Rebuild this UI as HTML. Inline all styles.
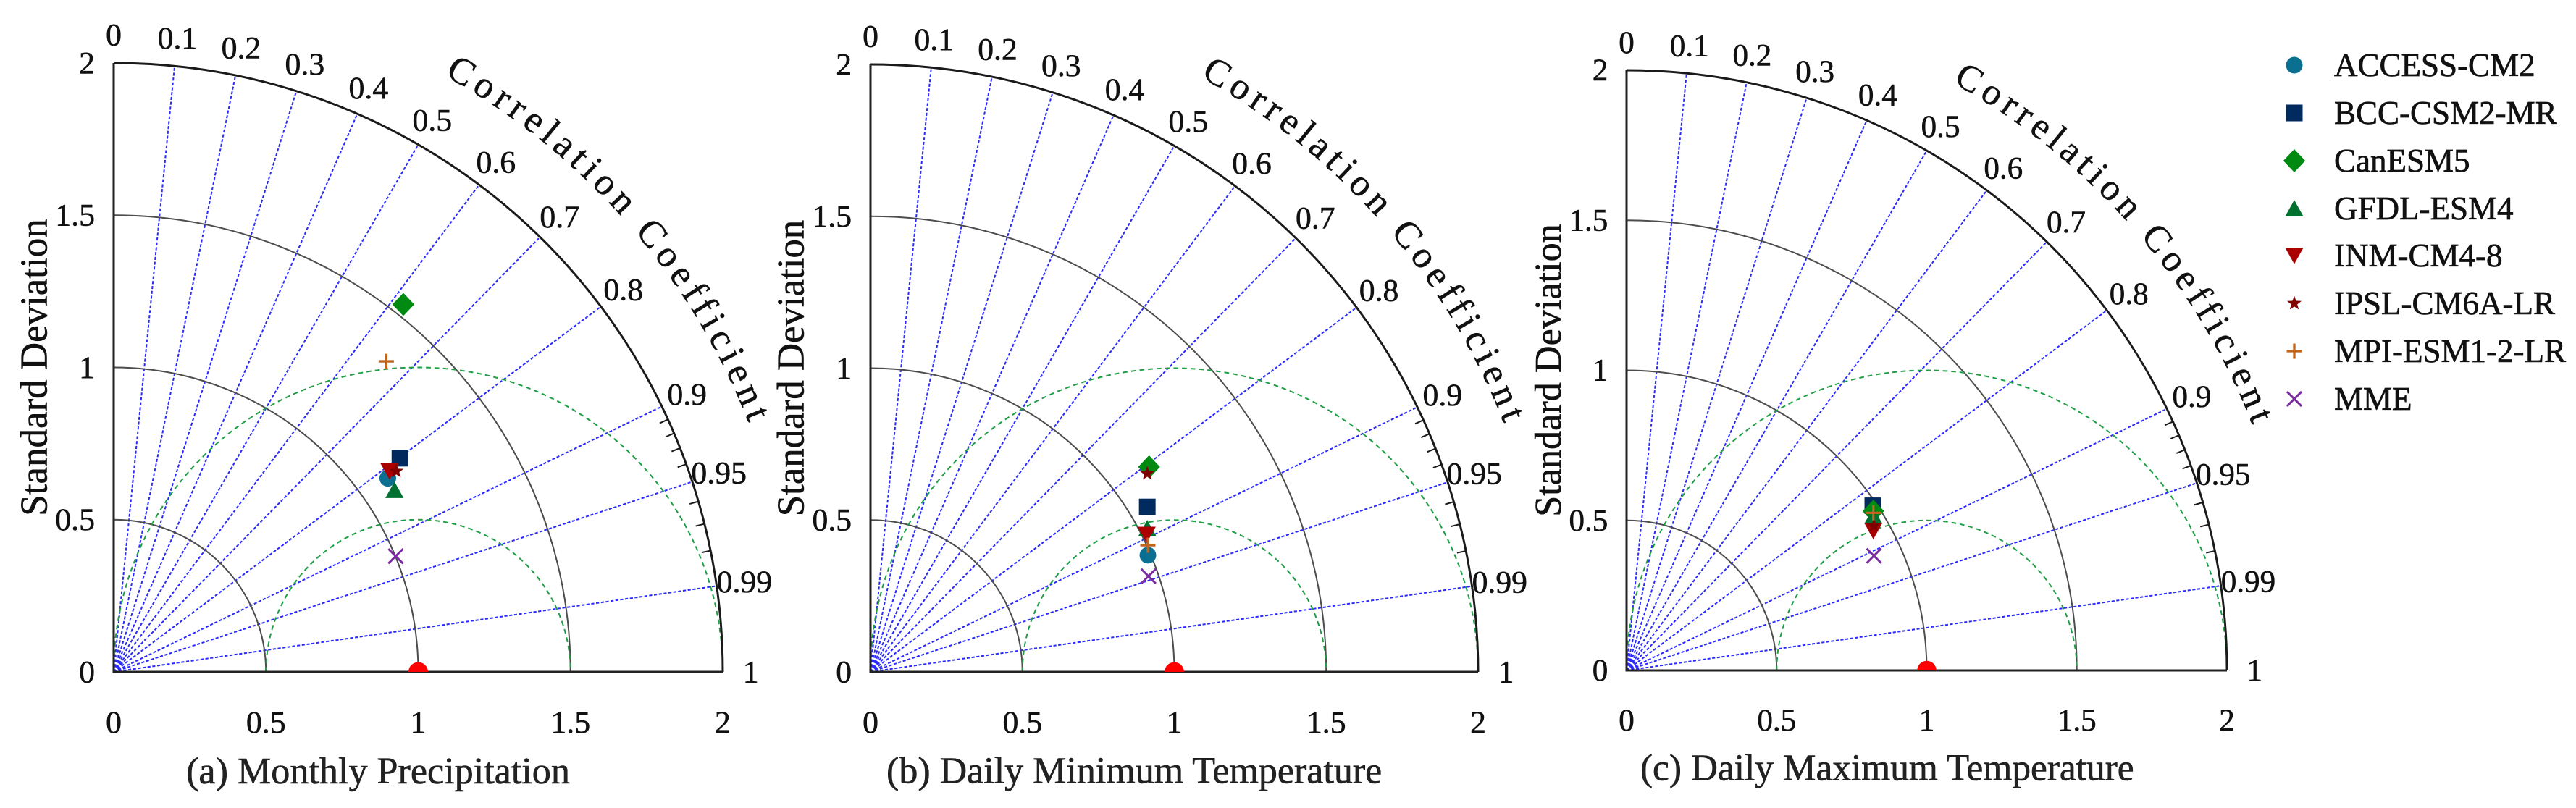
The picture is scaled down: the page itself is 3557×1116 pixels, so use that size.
<!DOCTYPE html>
<html><head><meta charset="utf-8"><style>html,body{margin:0;padding:0;background:#fff}svg{display:block}
svg, svg text, svg textPath{font-family:"Liberation Serif","Times New Roman",Times,"DejaVu Serif","Noto Serif CJK SC",serif;}</style></head>
<body>
<svg xmlns="http://www.w3.org/2000/svg" width="3557" height="1116" viewBox="0 0 3557 1116">
<style>text,textPath{font-family:"Liberation Serif","Times New Roman",Times,"DejaVu Serif","Noto Serif CJK SC",serif;}
.t{stroke:#111;stroke-width:0.7px;paint-order:stroke}</style>
<defs>
  <circle id="mc" r="13.7"/>
  <rect id="ms" x="-13.7" y="-13.7" width="27.4" height="27.4"/>
  <path id="md" d="M0 -19L18 0L0 19L-18 0Z"/>
  <path id="mtu" d="M0 -14L15 13L-15 13Z"/>
  <path id="mtd" d="M0 14L15 -13L-15 -13Z"/>
  <path id="mst" d="M0,-12.5 L3.06,-4.21 L11.89,-3.86 L4.95,1.61 L7.35,10.11 L0,5.2 L-7.35,10.11 L-4.95,1.61 L-11.89,-3.86 L-3.06,-4.21 Z"/>
  <path id="mp" d="M-12.5 0H12.5M0 -12.5V12.5" fill="none" stroke-width="4"/>
  <path id="mx" d="M-12 -12L12 12M-12 12L12 -12" fill="none" stroke-width="3.5"/>
  <path id="cp" d="M543 -979.6A1120 1120 0 0 1 1045.6 -401.4" fill="none"/>
  <g id="grid">
    <path d="M0 0L100 -994.99M0 0L200 -979.8M0 0L300 -953.94M0 0L400 -916.52M0 0L500 -866.03M0 0L600 -800M0 0L700 -714.14M0 0L800 -600M0 0L900 -435.89M0 0L950 -312.25M0 0L990 -141.07" stroke="#2a2aff" stroke-width="2.4" stroke-dasharray="5 3" fill="none"/>
    <path d="M250 0A250 250 0 0 0 0 -250M500 0A500 500 0 0 0 0 -500M750 0A750 750 0 0 0 0 -750" stroke="#4d4d4d" stroke-width="2.4" fill="none"/>
    <path d="M250 0A250 250 0 0 1 750 0M0 0A500 500 0 0 1 1000 0" stroke="#1f9e45" stroke-width="2.4" stroke-dasharray="8 6" fill="none"/>
    <path d="M1000 0A1000 1000 0 0 0 0 -1000" stroke="#1a1a1a" stroke-width="3.5" fill="none"/>
    <path d="M910 -414.6L896.4 -408.4M920 -391.9L906.2 -386M930 -367.6L916 -362M940 -341.2L925.9 -336.1M960 -280L945.6 -275.8M970 -243.1L955.5 -239.5M980 -199L965.3 -196" stroke="#1a1a1a" stroke-width="2.4" fill="none"/>
    <path d="M0 -1000V0H1000" stroke="#222" stroke-width="3.6" fill="none"/>
  </g>
</defs>

<!-- Panel A -->
<g transform="translate(157,928) scale(0.841)">
  <use href="#grid"/>
  <path d="M484 0A16 16 0 0 1 516 0Z" fill="#ff0000"/>
  <g class="t" font-size="52" fill="#111" text-anchor="middle">
    <text x="0" y="-1029">0</text>
    <text x="104.6" y="-1023.8">0.1</text>
    <text x="209.2" y="-1007.9">0.2</text>
    <text x="313.8" y="-980.8">0.3</text>
    <text x="418.4" y="-941.7">0.4</text>
    <text x="523" y="-888.9">0.5</text>
    <text x="627.6" y="-819.8">0.6</text>
    <text x="732.2" y="-730">0.7</text>
    <text x="836.8" y="-610.6">0.8</text>
    <text x="941.4" y="-438.9">0.9</text>
    <text x="993.7" y="-309.6">0.95</text>
    <text x="1035.5" y="-130.6">0.99</text>
    <text x="1046" y="17">1</text>
    <text x="0" y="100">0</text>
    <text x="250" y="100">0.5</text>
    <text x="500" y="100">1</text>
    <text x="750" y="100">1.5</text>
    <text x="1000" y="100">2</text>
  </g>
  <g class="t" font-size="52" fill="#111" text-anchor="end">
    <text x="-31" y="17">0</text>
    <text x="-31" y="-233">0.5</text>
    <text x="-31" y="-483">1</text>
    <text x="-31" y="-733">1.5</text>
    <text x="-31" y="-983">2</text>
  </g>
  <text class="t" transform="translate(-110,-500) rotate(-90)" font-size="63" fill="#111" text-anchor="middle">Standard Deviation</text>
  <text class="t" x="434" y="183" font-size="62" fill="#222" text-anchor="middle">(a) Monthly Precipitation</text>
  <text class="t" font-size="62" fill="#111" letter-spacing="9"><textPath href="#cp">Correlation Coefficient</textPath></text>
  <use href="#mc" x="450" y="-318" fill="#0a6f91"/>
  <use href="#ms" x="470" y="-351" fill="#012a5e"/>
  <use href="#md" x="475.5" y="-603.5" fill="#008a12"/>
  <use href="#mtu" x="461" y="-298.5" fill="#007030"/>
  <use href="#mtd" x="453" y="-329.5" fill="#aa0000"/>
  <use href="#mst" x="464" y="-329.5" fill="#800000"/>
  <use href="#mp" x="447.5" y="-510" stroke="#c0651e"/>
  <use href="#mx" x="463" y="-190" stroke="#7b2aa0"/>
</g>

<!-- Panel B -->
<g transform="translate(1202,928) scale(0.839)">
  <use href="#grid"/>
  <path d="M484 0A16 16 0 0 1 516 0Z" fill="#ff0000"/>
  <g class="t" font-size="52" fill="#111" text-anchor="middle">
    <text x="0" y="-1029">0</text>
    <text x="104.6" y="-1023.8">0.1</text>
    <text x="209.2" y="-1007.9">0.2</text>
    <text x="313.8" y="-980.8">0.3</text>
    <text x="418.4" y="-941.7">0.4</text>
    <text x="523" y="-888.9">0.5</text>
    <text x="627.6" y="-819.8">0.6</text>
    <text x="732.2" y="-730">0.7</text>
    <text x="836.8" y="-610.6">0.8</text>
    <text x="941.4" y="-438.9">0.9</text>
    <text x="993.7" y="-309.6">0.95</text>
    <text x="1035.5" y="-130.6">0.99</text>
    <text x="1046" y="17">1</text>
    <text x="0" y="100">0</text>
    <text x="250" y="100">0.5</text>
    <text x="500" y="100">1</text>
    <text x="750" y="100">1.5</text>
    <text x="1000" y="100">2</text>
  </g>
  <g class="t" font-size="52" fill="#111" text-anchor="end">
    <text x="-31" y="17">0</text>
    <text x="-31" y="-233">0.5</text>
    <text x="-31" y="-483">1</text>
    <text x="-31" y="-733">1.5</text>
    <text x="-31" y="-983">2</text>
  </g>
  <text class="t" transform="translate(-110,-500) rotate(-90)" font-size="63" fill="#111" text-anchor="middle">Standard Deviation</text>
  <text class="t" x="434" y="183" font-size="62" fill="#222" text-anchor="middle">(b) Daily Minimum Temperature</text>
  <text class="t" font-size="62" fill="#111" letter-spacing="9"><textPath href="#cp">Correlation Coefficient</textPath></text>
  <use href="#mc" x="456.5" y="-192" fill="#0a6f91"/>
  <use href="#ms" x="455.5" y="-271.5" fill="#012a5e"/>
  <use href="#md" x="458.5" y="-337.5" fill="#008a12"/>
  <use href="#mtu" x="455.5" y="-236" fill="#007030"/>
  <use href="#mtd" x="454.5" y="-226" fill="#aa0000"/>
  <use href="#mst" x="455.5" y="-326.5" fill="#800000"/>
  <use href="#mp" x="456.5" y="-208.5" stroke="#c0651e"/>
  <use href="#mx" x="457.5" y="-157.5" stroke="#7b2aa0"/>
</g>

<!-- Panel C -->
<g transform="translate(2246,926) scale(0.829)">
  <use href="#grid"/>
  <path d="M484 0A16 16 0 0 1 516 0Z" fill="#ff0000"/>
  <g class="t" font-size="52" fill="#111" text-anchor="middle">
    <text x="0" y="-1029">0</text>
    <text x="104.6" y="-1023.8">0.1</text>
    <text x="209.2" y="-1007.9">0.2</text>
    <text x="313.8" y="-980.8">0.3</text>
    <text x="418.4" y="-941.7">0.4</text>
    <text x="523" y="-888.9">0.5</text>
    <text x="627.6" y="-819.8">0.6</text>
    <text x="732.2" y="-730">0.7</text>
    <text x="836.8" y="-610.6">0.8</text>
    <text x="941.4" y="-438.9">0.9</text>
    <text x="993.7" y="-309.6">0.95</text>
    <text x="1035.5" y="-130.6">0.99</text>
    <text x="1046" y="17">1</text>
    <text x="0" y="100">0</text>
    <text x="250" y="100">0.5</text>
    <text x="500" y="100">1</text>
    <text x="750" y="100">1.5</text>
    <text x="1000" y="100">2</text>
  </g>
  <g class="t" font-size="52" fill="#111" text-anchor="end">
    <text x="-31" y="17">0</text>
    <text x="-31" y="-233">0.5</text>
    <text x="-31" y="-483">1</text>
    <text x="-31" y="-733">1.5</text>
    <text x="-31" y="-983">2</text>
  </g>
  <text class="t" transform="translate(-110,-500) rotate(-90)" font-size="63" fill="#111" text-anchor="middle">Standard Deviation</text>
  <text class="t" x="434" y="183" font-size="62" fill="#222" text-anchor="middle">(c) Daily Maximum Temperature</text>
  <text class="t" font-size="62" fill="#111" letter-spacing="9"><textPath href="#cp">Correlation Coefficient</textPath></text>
  <use href="#mc" x="410" y="-267" fill="#0a6f91"/>
  <use href="#ms" x="410" y="-274.5" fill="#012a5e"/>
  <use href="#md" x="411" y="-265.5" fill="#008a12"/>
  <use href="#mtu" x="411" y="-257.5" fill="#007030"/>
  <use href="#mtd" x="411" y="-232.5" fill="#aa0000"/>
  <use href="#mst" x="412" y="-241" fill="#800000"/>
  <use href="#mp" x="411" y="-262.5" stroke="#c0651e"/>
  <use href="#mx" x="412" y="-191" stroke="#7b2aa0"/>
</g>

<!-- Legend -->
<g transform="translate(3168,90) scale(0.84)"><use href="#mc" fill="#0a6f91"/></g>
<g transform="translate(3168,156) scale(0.84)"><use href="#ms" fill="#012a5e"/></g>
<g transform="translate(3168,222) scale(0.84)"><use href="#md" fill="#008a12"/></g>
<g transform="translate(3168,288) scale(0.84)"><use href="#mtu" fill="#007030"/></g>
<g transform="translate(3168,353) scale(0.84)"><use href="#mtd" fill="#aa0000"/></g>
<g transform="translate(3168,419) scale(0.84)"><use href="#mst" fill="#800000"/></g>
<g transform="translate(3168,485) scale(0.84)"><use href="#mp" stroke="#c0651e"/></g>
<g transform="translate(3168,551) scale(0.84)"><use href="#mx" stroke="#7b2aa0"/></g>
<g class="t" font-size="45" fill="#111">
  <text x="3223" y="105">ACCESS-CM2</text>
  <text x="3223" y="171">BCC-CSM2-MR</text>
  <text x="3223" y="237">CanESM5</text>
  <text x="3223" y="303">GFDL-ESM4</text>
  <text x="3223" y="368">INM-CM4-8</text>
  <text x="3223" y="434">IPSL-CM6A-LR</text>
  <text x="3223" y="500">MPI-ESM1-2-LR</text>
  <text x="3223" y="566">MME</text>
</g>
</svg>
</body></html>
